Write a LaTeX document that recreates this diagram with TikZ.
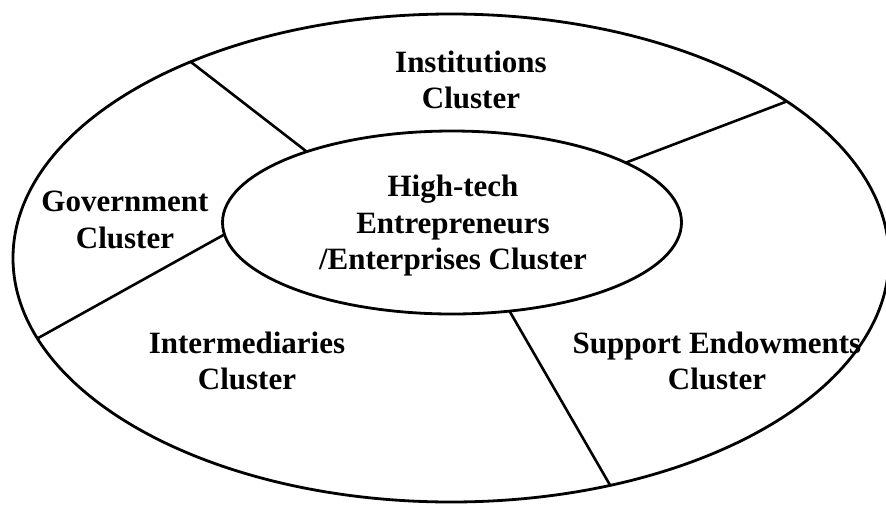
\documentclass[tikz,border=0pt]{standalone}
\usepackage{fontspec}
\setmainfont{Liberation Serif}
\usetikzlibrary{shapes.geometric}
\tikzset{
  ring/.style={draw=black, line width=2.8pt, ellipse, inner sep=0pt, outer sep=0pt},
  divider/.style={draw=black, line width=2.6pt},
  label/.style={align=center, inner sep=0pt, font=\fontsize{31}{36.5}\selectfont\bfseries}
}
\begin{document}
\begin{tikzpicture}[x=1pt,y=-1pt]
\useasboundingbox (0,0) rectangle (886,504);
\node[ring, minimum width=876pt, minimum height=488pt] (outer) at (451,258) {};
\node[ring, minimum width=459pt, minimum height=183pt, fill=white] (core) at (452,222.5) {};
\draw[divider] (outer.143.1) -- (core.154.4);
\draw[divider] (outer.25.7) -- (core.19.7);
\draw[divider] (outer.191.8) -- (core.183.7);
\draw[divider] (outer.305.2) -- (core.303.5);
\node[label] (inst) at (471,80) {Institutions\\Cluster};
\node[label] (gov) at (125,220) {Government\\Cluster};
\node[label] (inter) at (247,361) {Intermediaries\\Cluster};
\node[label] (supp) at (717,361) {Support Endowments\\Cluster};
\node[label] (high) at (453,226) {High-tech\\Entrepreneurs\\/Enterprises Cluster};
\end{tikzpicture}
\end{document}
